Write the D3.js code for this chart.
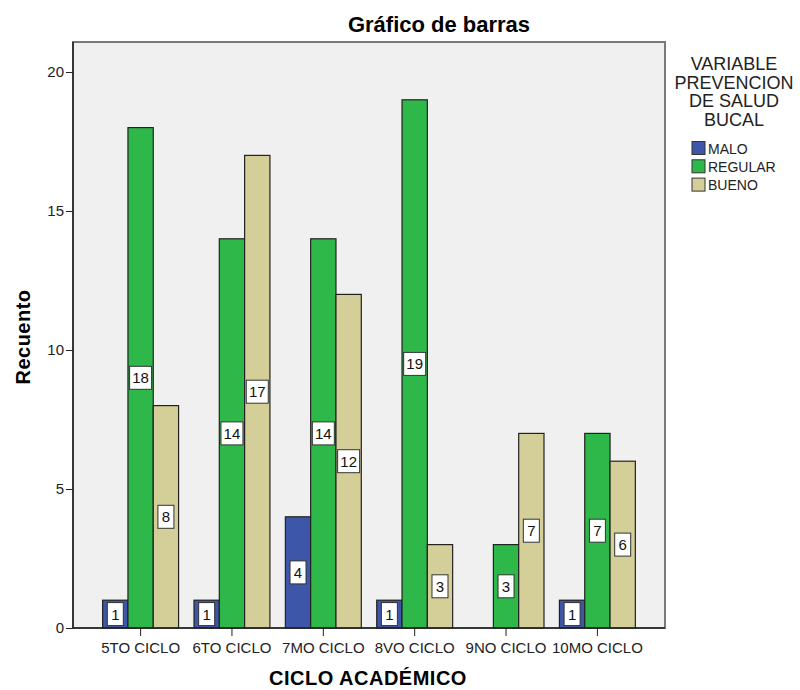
<!DOCTYPE html>
<html>
<head>
<meta charset="utf-8">
<script src="https://cdn.jsdelivr.net/npm/d3@7"></script>
<style>
  body { margin: 0; background: #fff; }
  text { font-family: "Liberation Sans", Arial, sans-serif; }
</style>
</head>
<body>
<svg width="800" height="690"></svg>
<script>
let ciclos = ["5TO CICLO", "6TO CICLO", "7MO CICLO", "8VO CICLO", "9NO CICLO", "10MO CICLO"];
let niveles = ["MALO", "REGULAR", "BUENO"];
let malo = [1, 1, 4, 1, 0, 1];
let regular = [18, 14, 14, 19, 3, 7];
let bueno = [8, 17, 12, 3, 7, 6];
let colores = ["#3d56a8", "#2fb84a", "#d4cf98"];
let yTicks = [0, 5, 10, 15, 20];

let series = [malo, regular, bueno];

let svg = d3.select("svg");
let plotL = 73, plotR = 665, plotT = 42, plotB = 628;

// plot background + frame
svg.append("rect")
  .attr("x", plotL).attr("y", plotT)
  .attr("width", plotR - plotL).attr("height", plotB - plotT)
  .style("fill", "#f0f0f0")
  .style("stroke", "#7a7a7a")
  .style("stroke-width", 2);

let x = d3.scaleBand().domain(ciclos).range([plotL, plotR]).paddingOuter(0.24).paddingInner(0);
let sub = d3.scaleBand().domain(niveles).range([0, x.bandwidth()]).paddingOuter(0.305).paddingInner(0);
let y = d3.scaleLinear().domain([0, 20]).range([plotB, 72]);

let rows = [];
ciclos.forEach((c, i) => {
  niveles.forEach((n, j) => {
    rows.push({ ciclo: c, nivel: n, value: series[j][i], color: colores[j] });
  });
});
let shown = rows.filter((d) => d.value > 0);

svg.append("g")
  .selectAll(".bar")
  .data(shown)
  .join("rect")
  .attr("class", "bar")
  .attr("x", (d) => x(d.ciclo) + sub(d.nivel))
  .attr("y", (d) => y(d.value))
  .attr("width", sub.bandwidth())
  .attr("height", (d) => y(0) - y(d.value))
  .style("fill", (d) => d.color)
  .style("stroke", "#222")
  .style("stroke-width", 1.2);

// value labels, in the middle of each bar
let lab = svg.append("g")
  .selectAll(".lab")
  .data(shown)
  .join("g")
  .attr("class", "lab")
  .attr("transform", (d) => `translate(${x(d.ciclo) + sub(d.nivel) + sub.bandwidth() / 2},${(y(0) + y(d.value)) / 2})`);

lab.append("rect")
  .attr("x", (d) => (String(d.value).length > 1 ? -11 : -8))
  .attr("y", -11.5)
  .attr("width", (d) => (String(d.value).length > 1 ? 22 : 16))
  .attr("height", 23)
  .style("fill", "#fff")
  .style("stroke", "#333")
  .style("stroke-width", 1);

lab.append("text")
  .attr("text-anchor", "middle")
  .attr("dy", "0.36em")
  .style("font-size", "15px")
  .style("fill", "#111")
  .text((d) => d.value);

// axes
let yAxis = svg.append("g")
  .attr("transform", `translate(${plotL},0)`)
  .call(d3.axisLeft(y).tickValues(yTicks).tickSize(7).tickPadding(2));
yAxis.select(".domain").attr("d", `M0,${plotT}V${plotB}`).style("stroke", "#222").style("stroke-width", 1.5);
yAxis.selectAll(".tick line").style("stroke", "#222");
yAxis.selectAll("text").style("font-size", "15px").style("fill", "#222");

let xAxis = svg.append("g")
  .attr("transform", `translate(0,${plotB})`)
  .call(d3.axisBottom(x).tickSize(8).tickPadding(6));
xAxis.select(".domain").attr("d", `M${plotL},0H${plotR}`).style("stroke", "#222").style("stroke-width", 1.5);
xAxis.selectAll(".tick line").style("stroke", "#222");
xAxis.selectAll("text").style("font-size", "15px").style("fill", "#222");

// titles
svg.append("text")
  .attr("x", 439).attr("y", 32)
  .attr("text-anchor", "middle")
  .style("font-size", "22px").style("font-weight", "bold")
  .text("Gráfico de barras");

svg.append("text")
  .attr("transform", "translate(30,337) rotate(-90)")
  .attr("text-anchor", "middle")
  .style("font-size", "20px").style("font-weight", "bold")
  .style("letter-spacing", "0.5px")
  .text("Recuento");

svg.append("text")
  .attr("x", 368).attr("y", 685)
  .attr("text-anchor", "middle")
  .style("font-size", "20px").style("font-weight", "bold")
  .style("letter-spacing", "0.5px")
  .text("CICLO ACADÉMICO");

// legend
let legTitle = ["VARIABLE", "PREVENCION", "DE SALUD", "BUCAL"];
svg.append("g")
  .selectAll("text")
  .data(legTitle)
  .join("text")
  .attr("x", 734)
  .attr("y", (d, i) => 70 + i * 18.5)
  .attr("text-anchor", "middle")
  .style("font-size", "18px")
  .style("fill", "#222")
  .text((d) => d);

let yPlacement = 0;
niveles.forEach((n, i) => {
  svg.append("rect")
    .attr("x", 692).attr("y", 141.5 + yPlacement)
    .attr("width", 13).attr("height", 13)
    .style("fill", colores[i])
    .style("stroke", "#333");
  svg.append("text")
    .attr("x", 708).attr("y", 153.5 + yPlacement)
    .style("font-size", "14px")
    .style("fill", "#222")
    .text(n);
  yPlacement += 18.3;
});
</script>
</body>
</html>
